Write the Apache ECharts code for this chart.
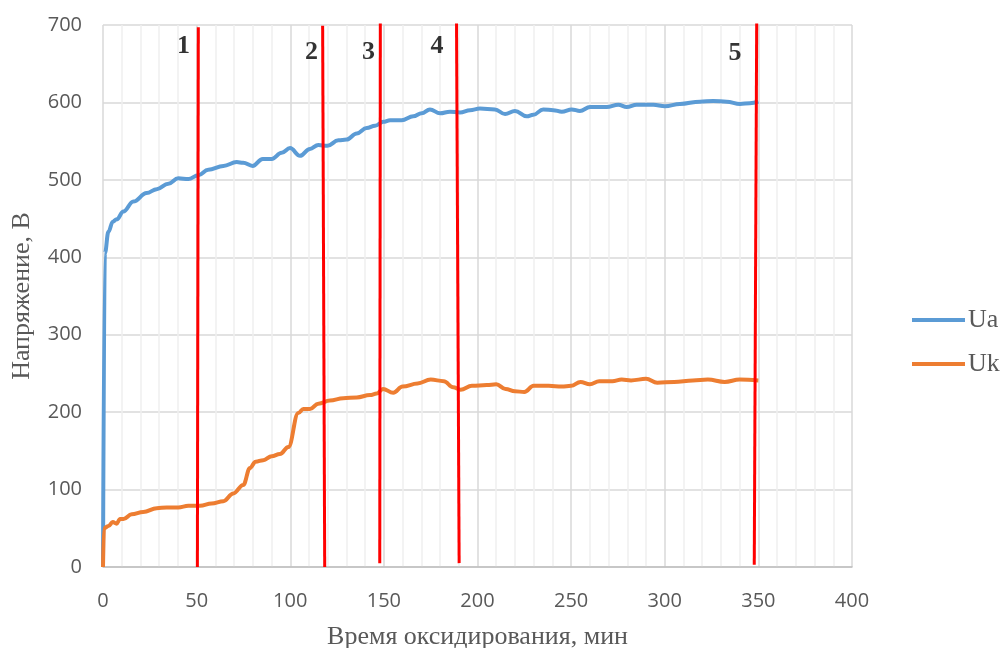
<!DOCTYPE html>
<html>
<head>
<meta charset="utf-8">
<script src="https://cdn.jsdelivr.net/npm/echarts@6/dist/echarts.min.js"></script>
<style>html,body{margin:0;padding:0;background:#fff;overflow:hidden}#c{width:1003px;height:648px}</style>
</head>
<body>
<div id="c"></div>
<script>
// Time (min) and anode voltage Ua (V)
const uaTime = [0, 1, 2.9, 5.2, 7.3, 10.9, 16.2, 23.3, 28.7, 34.9, 40.2, 45.6, 50.9, 56.2, 64.3, 71.4, 74.9, 79.9, 85.3, 90.1, 95.4, 99.9, 105.2, 110.5, 115, 119.8, 125.7, 130.1, 135.5, 140.8, 145.3, 149.7, 153.3, 159.5, 165.7, 170.2, 174.6, 180, 185.3, 190.7, 196, 201.3, 209.3, 214.7, 220, 226.3, 229.8, 235.1, 240.5, 245, 250.3, 254.7, 260.1, 269, 275.2, 279.7, 285, 293.9, 300.1, 308.1, 318.8, 325.9, 333.1, 340.2, 345.5, 350];
const uaValues = [0, 405, 433, 446, 449, 459, 472, 483, 488, 495, 502, 501, 506, 513, 518, 523, 522, 518, 527, 527, 535, 541, 531, 540, 545, 544, 551, 552, 560, 567, 570, 575, 577, 577, 582, 586, 591, 586, 588, 587, 590, 592, 591, 585, 589, 582, 584, 591, 590, 588, 591, 589, 594, 594, 597, 594, 597, 597, 595, 598, 601, 602, 601, 598, 599, 601];
// Time (min) and cathode voltage Uk (V)
const ukTime = [0, 0.5, 2.9, 5.2, 7.3, 9.1, 10.9, 15.3, 21.5, 28.7, 34, 40.2, 45.6, 51.8, 58, 64.3, 69.6, 74.9, 78.5, 81.5, 85.6, 90.1, 94.5, 99, 104.3, 107, 110.5, 115, 121.2, 128.3, 135.5, 142.6, 146.2, 149.5, 155, 160, 168, 175, 182, 187, 191, 197, 205, 210, 215, 220, 225, 230, 238, 245, 250, 255, 260, 265, 272, 277, 282, 290, 296, 305, 315, 323, 332, 340, 350];
const ukValues = [0, 50, 53, 58, 56, 62, 62, 68, 71, 76, 77, 77, 79, 79, 82, 85, 95, 106, 128, 136, 138, 143, 146, 155, 199, 204, 204, 211, 215, 218, 219, 222, 224, 230, 225, 233, 237, 242, 240, 232, 229, 234, 235, 236, 230, 227, 226, 234, 234, 233, 234, 239, 236, 240, 240, 242, 241, 243, 238, 239, 241, 242, 239, 242, 241];
// Stage boundary markers: [bottom x, bottom y, top x, top y]
const markerNames = ['1', '2', '3', '4', '5'];
const markerLines = [
  [50.4, 0, 50.9, 697],
  [118.4, 0, 117.3, 699],
  [147.8, 5, 148.1, 702],
  [190.2, 5, 188.8, 702],
  [347.8, 3, 349.1, 702]
];
const markerLabelPos = [[43.0, 672], [111.4, 665], [141.8, 665], [178.4, 672], [337.5, 664]];
const xTicks = [0, 400, 50];
const yTicks = [0, 700, 100];

const zip = (a, b) => a.map((v, i) => [v, b[i]]);
const tickFont = "'Open Sans', 'Noto Sans', sans-serif";
const serif = "'Liberation Serif', serif";

const series = [
  { name: 'Ua', type: 'line', data: zip(uaTime, uaValues), smooth: 0.4, smoothMonotone: 'x', showSymbol: false, symbol: 'none',
    lineStyle: { color: '#5B9BD5', width: 4 }, itemStyle: { color: '#5B9BD5' }, z: 3 },
  { name: 'Uk', type: 'line', data: zip(ukTime, ukValues), smooth: 0.4, smoothMonotone: 'x', showSymbol: false, symbol: 'none',
    lineStyle: { color: '#ED7D31', width: 4 }, itemStyle: { color: '#ED7D31' }, z: 3 }
];
markerLines.forEach((m, i) => {
  series.push({ name: 'm' + markerNames[i], type: 'line', data: [[m[0], m[1]], [m[2], m[3]]], symbol: 'none', clip: false,
    lineStyle: { color: '#FF0000', width: 3 }, silent: true, z: 4 });
});
series.push({ name: 'labels', type: 'scatter', symbolSize: 0, silent: true, z: 5,
  data: markerLabelPos.map((p, i) => ({ value: p, name: markerNames[i] })),
  label: { show: true, position: 'inside', formatter: p => p.name, fontFamily: serif, fontWeight: 'bold', fontSize: 26, color: '#000' } });

const chart = echarts.init(document.getElementById('c'), null, { renderer: 'canvas' });
chart.setOption({
  animation: false,
  backgroundColor: '#fff',
  grid: { left: 103, right: 151, top: 25, bottom: 81, containLabel: false, outerBoundsMode: 'none' },
  legend: {
    data: [{ name: 'Ua', icon: 'rect' }, { name: 'Uk', icon: 'rect' }],
    orient: 'vertical', left: 912, top: 307, padding: 0, itemWidth: 53, itemHeight: 4, itemGap: 18, itemStyle: { borderWidth: 0 },
    textStyle: { fontFamily: serif, fontSize: 26, color: '#595959', padding: [0, 0, 0, -2] }
  },
  xAxis: {
    type: 'value', min: xTicks[0], max: xTicks[1], interval: xTicks[2],
    name: 'Время оксидирования, мин', nameLocation: 'middle', nameGap: 57,
    nameTextStyle: { fontFamily: serif, fontSize: 26, color: '#595959' },
    axisLine: { show: true, lineStyle: { color: '#BFBFBF', width: 1.5 } },
    axisTick: { show: false },
    axisLabel: { margin: 24, fontFamily: tickFont, fontSize: 20, color: '#595959' },
    splitLine: { show: true, lineStyle: { color: '#D9D9D9', width: 1.5 } },
    minorTick: { show: false, splitNumber: 5 },
    minorSplitLine: { show: true, lineStyle: { color: '#F0F0F0', width: 1.5 } }
  },
  yAxis: {
    type: 'value', min: yTicks[0], max: yTicks[1], interval: yTicks[2],
    name: 'Напряжение, В', nameLocation: 'middle', nameGap: 68, nameRotate: 90,
    nameTextStyle: { fontFamily: serif, fontSize: 26, color: '#595959' },
    axisLine: { show: false }, axisTick: { show: false },
    axisLabel: { margin: 21, fontFamily: tickFont, fontSize: 20, color: '#595959' },
    splitLine: { show: true, lineStyle: { color: '#D9D9D9', width: 1.5 } }
  },
  series: series
});
</script>
</body>
</html>
